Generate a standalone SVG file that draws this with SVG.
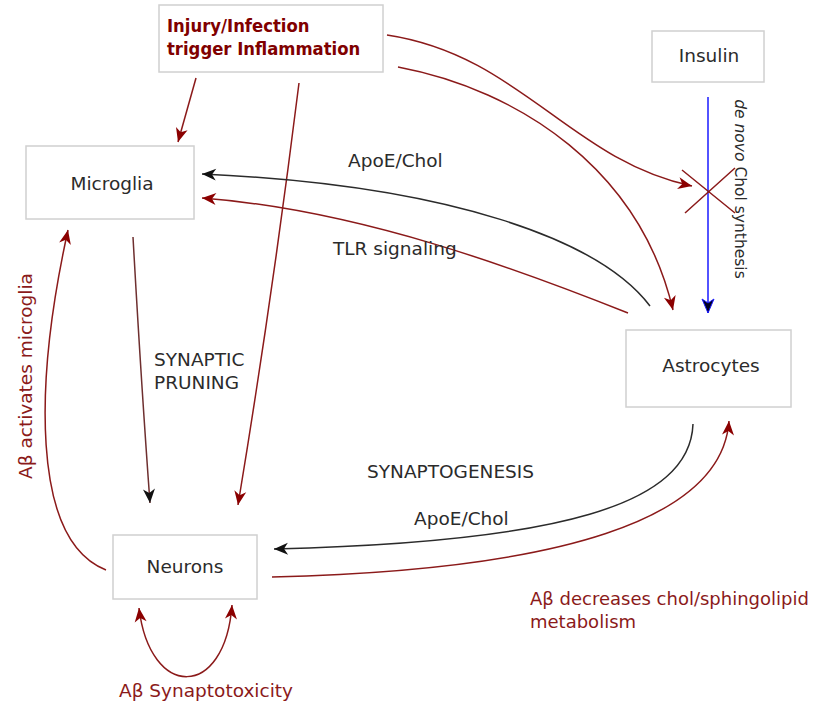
<svg xmlns="http://www.w3.org/2000/svg" width="815" height="704" viewBox="0 0 815 704">
<style>
  .box { fill: #ffffff; stroke: #d0d0d0; stroke-width: 1.5; }
  .lbl { font-family: "DejaVu Sans", Verdana, sans-serif; font-size: 18.5px; fill: #2b2b2b; }
  .red { fill: #8b1a1a; }
  .title { font-family: "DejaVu Sans Condensed", "DejaVu Sans", sans-serif; font-stretch: condensed; font-weight: bold; font-size: 18.3px; fill: #800000; }
  .cr { fill: none; stroke: #8b1a1a; stroke-width: 1.5; }
  .ck { fill: none; stroke: #2b2b2b; stroke-width: 1.5; }
  .cb { fill: none; stroke: #1a1aff; stroke-width: 1.5; }
</style>
<defs>
  <marker id="ar" markerUnits="userSpaceOnUse" viewBox="-16 -8 18 16" refX="0" refY="0" markerWidth="18" markerHeight="16" orient="auto-start-reverse" overflow="visible">
    <path d="M0,0 L-14,-6 L-10,0 L-14,6 Z" fill="#8b0000"/>
  </marker>
  <marker id="ak" markerUnits="userSpaceOnUse" viewBox="-16 -8 18 16" refX="0" refY="0" markerWidth="18" markerHeight="16" orient="auto" overflow="visible">
    <path d="M0,0 L-14,-6 L-10,0 L-14,6 Z" fill="#111111"/>
  </marker>
  <marker id="ab" markerUnits="userSpaceOnUse" viewBox="-16 -8 18 16" refX="0" refY="0" markerWidth="18" markerHeight="16" orient="auto" overflow="visible">
    <path d="M0,0 L-14,-6 L-10,0 L-14,6 Z" fill="#000022" stroke="#1a1aff" stroke-width="1"/>
  </marker>
</defs>
<rect width="815" height="704" fill="#ffffff"/>

<g id="connectors">
  <!-- Injury -> Microglia -->
  <path class="cr" d="M196,78 L178,142" marker-end="url(#ar)"/>
  <!-- Injury -> Neurons -->
  <path class="cr" d="M299,83 Q272,300 238,505" marker-end="url(#ar)"/>
  <!-- Injury -> de novo synthesis block -->
  <path class="cr" d="M387,35 C 520,55 570,160 692,186" marker-end="url(#ar)"/>
  <!-- Injury -> Astrocytes -->
  <path class="cr" d="M398,67 C 520,90 640,170 673,310" marker-end="url(#ar)"/>
  <!-- Insulin -> Astrocytes (de novo Chol synthesis) -->
  <path class="cb" d="M708,97 L708,313" marker-end="url(#ab)"/>
  <!-- Cross (inhibition) -->
  <path class="cr" d="M682,170 L735,213 M735,168 L685,213"/>
  <!-- Astrocytes -> Microglia ApoE/Chol -->
  <path class="ck" d="M650,306 C 600,240 450,185 202,174" marker-end="url(#ak)"/>
  <!-- Astrocytes -> Microglia TLR -->
  <path class="cr" d="M628,313 C 520,270 360,210 202,198" marker-end="url(#ar)"/>
  <!-- Microglia -> Neurons synaptic pruning -->
  <path fill="none" stroke="#6e2f2f" stroke-width="1.5" d="M133,237 Q141,380 150,503" marker-end="url(#ak)"/>
  <!-- Neurons -> Microglia -->
  <path class="cr" d="M106,570 C 30,540 35,380 68,230" marker-end="url(#ar)"/>
  <!-- Astrocytes -> Neurons ApoE/Chol -->
  <path class="ck" d="M693,424 C 690,505 560,542 274,549" marker-end="url(#ak)"/>
  <!-- Neurons -> Astrocytes -->
  <path class="cr" d="M272,577 C 560,570 722,520 729,421" marker-end="url(#ar)"/>
  <!-- Neurons self loop -->
  <path class="cr" d="M139,608 C 150,700 225,700 232,605" marker-start="url(#ar)" marker-end="url(#ar)"/>
</g>

<g id="injury">
  <rect class="box" x="159" y="5" width="224" height="67"/>
  <text class="title" x="167" y="32">Injury/Infection</text>
  <text class="title" x="167" y="55">trigger Inflammation</text>
</g>
<g id="insulin">
  <rect class="box" x="652" y="31" width="112" height="51"/>
  <text class="lbl" x="709" y="62" text-anchor="middle">Insulin</text>
</g>
<g id="microglia">
  <rect class="box" x="26" y="146" width="168" height="73"/>
  <text class="lbl" x="112" y="190" text-anchor="middle">Microglia</text>
</g>
<g id="astrocytes">
  <rect class="box" x="626" y="330" width="165" height="77"/>
  <text class="lbl" x="711" y="372" text-anchor="middle">Astrocytes</text>
</g>
<g id="neurons">
  <rect class="box" x="113" y="535" width="144" height="64"/>
  <text class="lbl" x="185" y="573" text-anchor="middle">Neurons</text>
</g>

<g id="labels">
  <text class="lbl" x="348" y="167">ApoE/Chol</text>
  <text class="lbl" x="333" y="255">TLR signaling</text>
  <text class="lbl" x="154" y="366">SYNAPTIC</text>
  <text class="lbl" x="154" y="389">PRUNING</text>
  <text class="lbl" x="367" y="478">SYNAPTOGENESIS</text>
  <text class="lbl" x="414" y="525">ApoE/Chol</text>
  <text class="lbl red" style="font-size:18px" x="530" y="605">Aβ decreases chol/sphingolipid</text>
  <text class="lbl red" style="font-size:18px" x="530" y="628">metabolism</text>
  <text class="lbl red" x="119" y="697">Aβ Synaptotoxicity</text>
  <text class="lbl red" transform="translate(32,376) rotate(-90)" text-anchor="middle">Aβ activates microglia</text>
  <text class="lbl" style="font-size:15.5px" transform="translate(735,189) rotate(90)" text-anchor="middle"><tspan font-style="italic">de novo</tspan> Chol synthesis</text>
</g>
</svg>
